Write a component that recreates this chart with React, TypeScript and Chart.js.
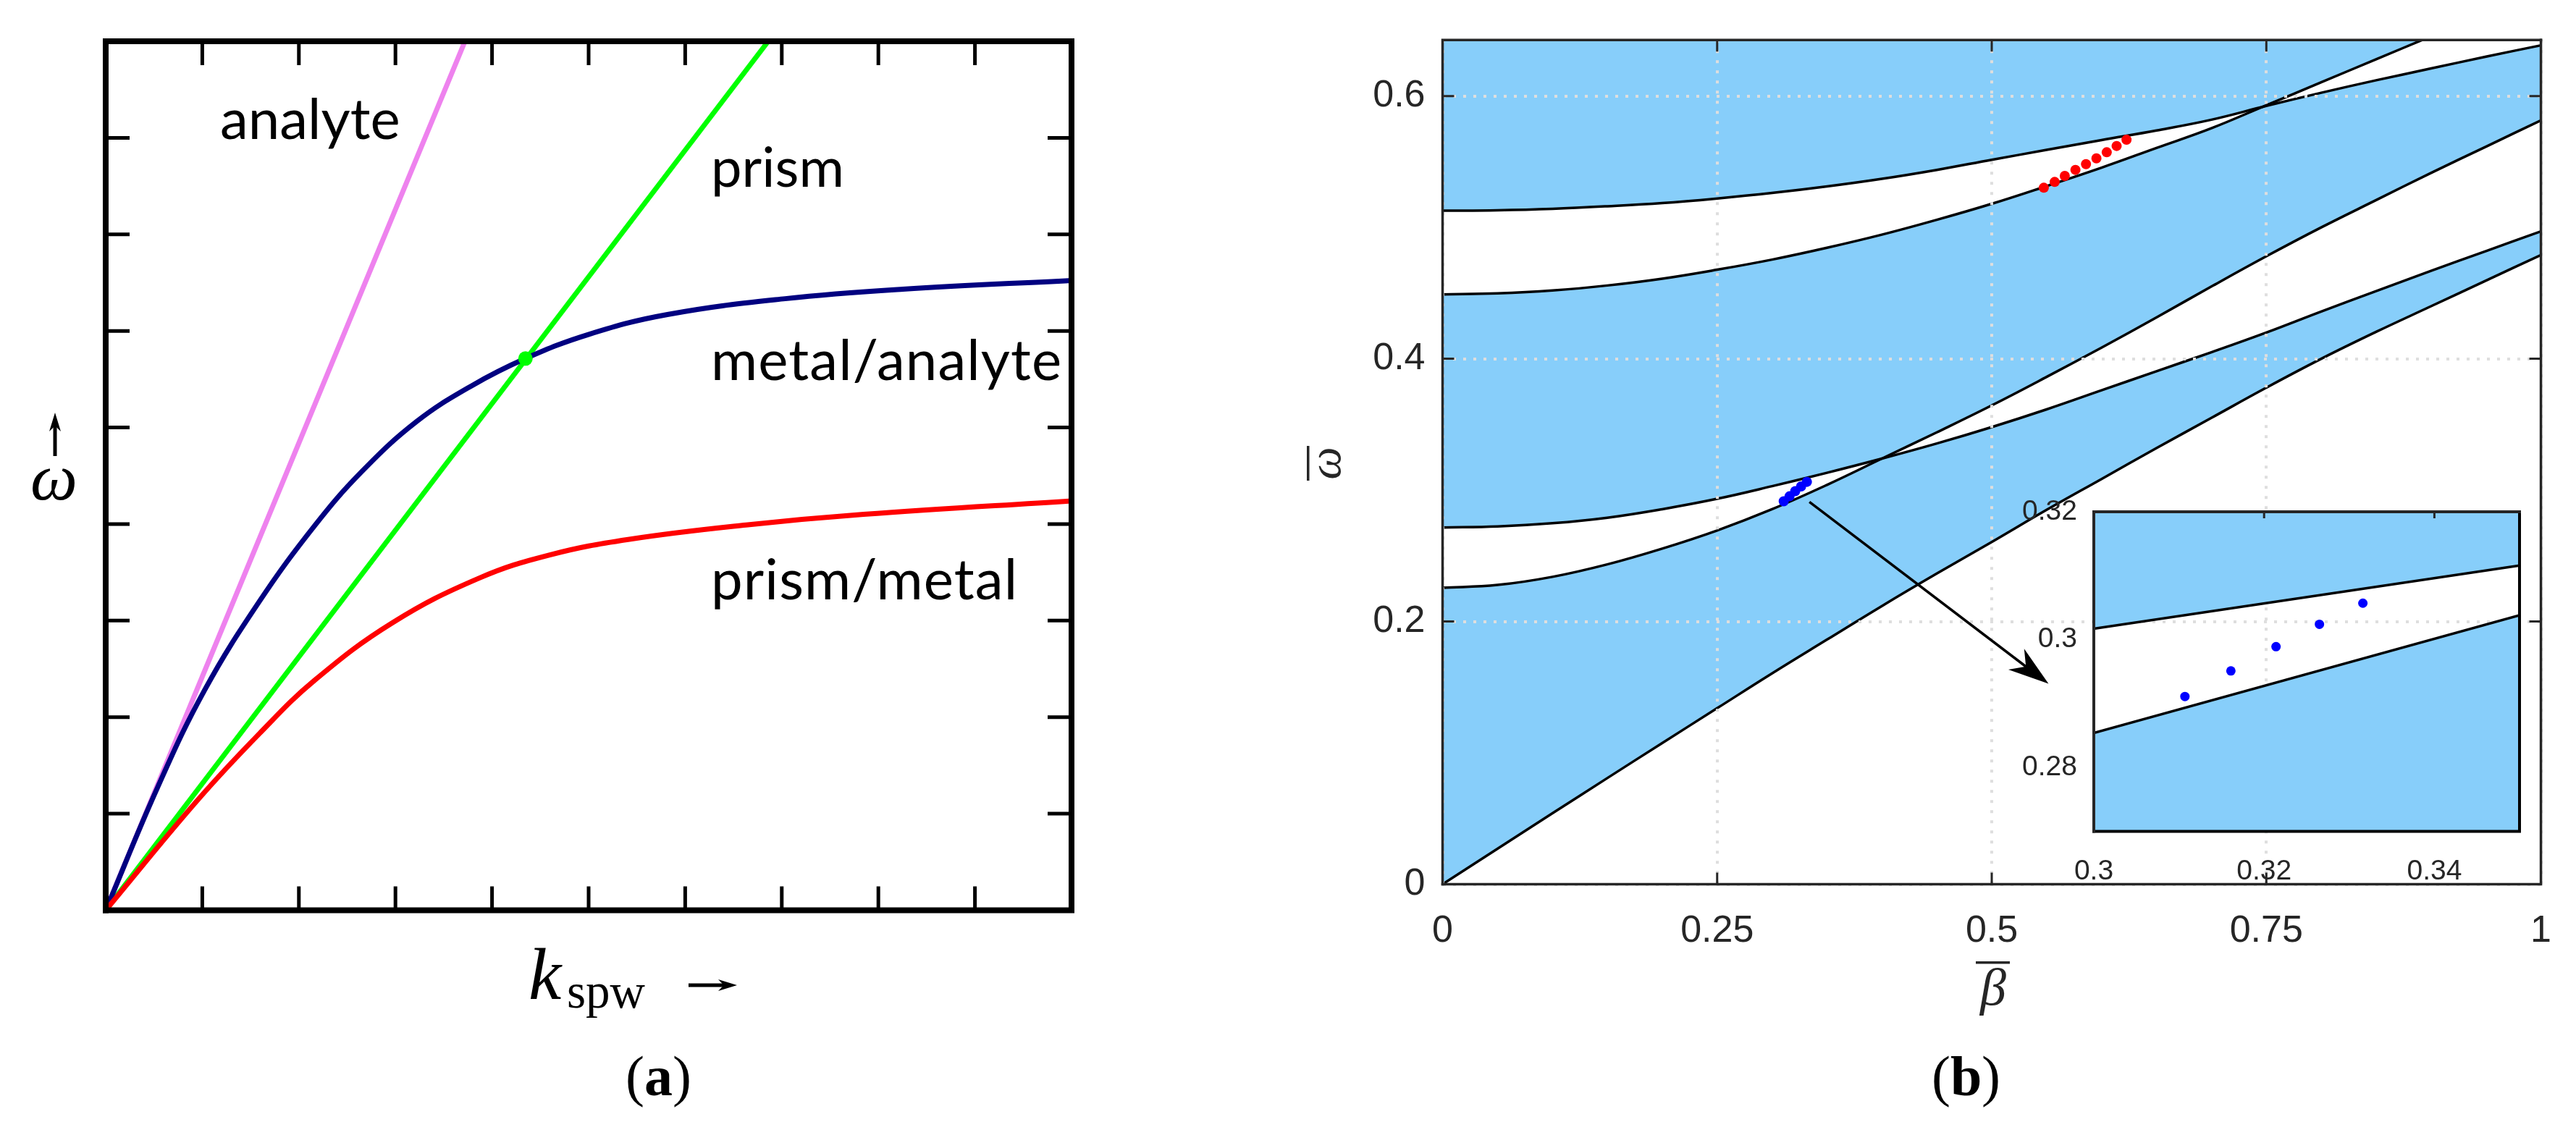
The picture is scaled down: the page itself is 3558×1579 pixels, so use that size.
import React, { useEffect, useRef } from "react";
import { Chart, registerables } from "chart.js";

Chart.register(...registerables);

const W = 3558;
const H = 1579;

// Panel (a)
const kTicks = [0, 1, 2, 3, 4, 5, 6, 7, 8, 9, 10];
const wTicks = [0, 1, 2, 3, 4, 5, 6, 7, 8, 9];
const analyteK = [0, 3.72];
const analyteW = [0, 9];
const prismK = [0, 6.86];
const prismW = [0, 9];
const metalAnalyteK = [0, 0.536, 1.024, 1.592, 2.161, 2.648, 3.217, 3.786, 4.346, 5.004, 5.816, 7.035, 8.253, 10];
const metalAnalyteW = [0, 1.27, 2.28, 3.2, 3.98, 4.54, 5.06, 5.43, 5.714, 5.965, 6.17, 6.334, 6.432, 6.523];
const prismMetalK = [0, 0.942, 1.592, 2.161, 2.973, 3.867, 4.598, 5.41, 6.629, 7.847, 10];
const prismMetalW = [0, 1.13, 1.83, 2.38, 2.98, 3.44, 3.68, 3.84, 3.99, 4.1, 4.24];
const crossK = [4.346];
const crossW = [5.714];

// Panel (b)
const betaTicks = [0, 0.25, 0.5, 0.75, 1];
const betaLabels = ["0", "0.25", "0.5", "0.75", "1"];
const omegaTicks = [0, 0.2, 0.4, 0.6];
const omegaLabels = ["0", "0.2", "0.4", "0.6"];
const beta = [0, 0.05, 0.1, 0.15, 0.2, 0.25, 0.3, 0.35, 0.4, 0.45, 0.5, 0.55, 0.6, 0.65, 0.7, 0.75, 0.8, 0.85, 0.9, 0.95, 1];
const curve1 = [0.5127, 0.5131, 0.5142, 0.5161, 0.5185, 0.522, 0.5262, 0.5312, 0.537, 0.5438, 0.5515, 0.559, 0.5665, 0.5738, 0.582, 0.5925, 0.6025, 0.612, 0.621, 0.63, 0.6386];
const curve2 = [0.449, 0.4498, 0.452, 0.4558, 0.461, 0.4678, 0.4755, 0.4845, 0.4945, 0.5058, 0.518, 0.5315, 0.5455, 0.5605, 0.5755, 0.593, 0.6105, 0.628, 0.6455, 0.663, 0.68];
const curve3 = [0.2716, 0.2724, 0.2748, 0.279, 0.2855, 0.2934, 0.303, 0.3132, 0.324, 0.3355, 0.348, 0.3615, 0.376, 0.3905, 0.405, 0.42, 0.436, 0.4515, 0.467, 0.482, 0.497];
const curve4 = [0.2256, 0.2278, 0.234, 0.2435, 0.2555, 0.2693, 0.2855, 0.304, 0.324, 0.344, 0.3645, 0.3862, 0.4085, 0.4315, 0.455, 0.478, 0.5, 0.5208, 0.5415, 0.5615, 0.5815];
const curve5 = [0, 0.027, 0.054, 0.0808, 0.1075, 0.134, 0.1605, 0.1862, 0.2118, 0.2365, 0.2605, 0.285, 0.3085, 0.332, 0.355, 0.378, 0.4, 0.4205, 0.44, 0.4595, 0.479];
const redBeta = [0.5474, 0.5573, 0.5665, 0.5762, 0.5858, 0.5953, 0.6047, 0.6137, 0.6227];
const redOmega = [0.5302, 0.5346, 0.5392, 0.5438, 0.5482, 0.5526, 0.5572, 0.562, 0.5667];
const blueBeta = [0.3106, 0.3159, 0.3211, 0.3264, 0.3317];
const blueOmega = [0.2915, 0.2953, 0.2992, 0.3028, 0.3063];
const arrowBeta = [0.334, 0.5517];
const arrowOmega = [0.291, 0.1526];

// Inset
const insetBetaTicks = [0.3, 0.32, 0.34];
const insetBetaLabels = ["0.3", "0.32", "0.34"];
const insetOmegaTicks = [0.28, 0.3, 0.32];
const insetOmegaLabels = ["0.28", "0.3", "0.32"];
const insetBeta = [0.3, 0.35];
const insetUpper = [0.3017, 0.3116];
const insetLower = [0.2854, 0.3038];
const insetDotsBeta = [0.3107, 0.3161, 0.3214, 0.3265, 0.3316];
const insetDotsOmega = [0.2911, 0.2951, 0.2989, 0.3024, 0.3057];

const BLUE = "#87CEFA";
const DARK = "#262626";

const pts = (xs: number[], ys: number[]) => xs.map((x, i) => ({ x, y: ys[i] }));

function box(l: number, t: number, r: number, b: number) {
  return {
    padding: { left: 0, top: t, right: W - r, bottom: 0 },
    autoPadding: false,
    xFit: (s: any) => { s.height = H - b; },
    yFit: (s: any) => { s.width = l; },
  };
}

function frame(ctx: CanvasRenderingContext2D, a: any, width: number, c1: string, c2: string) {
  ctx.save();
  ctx.lineWidth = width;
  ctx.lineCap = "square";
  ctx.strokeStyle = c2;
  ctx.beginPath();
  ctx.moveTo(a.left, a.bottom); ctx.lineTo(a.right, a.bottom); ctx.lineTo(a.right, a.top);
  ctx.stroke();
  ctx.strokeStyle = c1;
  ctx.beginPath();
  ctx.moveTo(a.left, a.bottom); ctx.lineTo(a.left, a.top); ctx.lineTo(a.right, a.top);
  ctx.stroke();
  ctx.restore();
}

function inwardTicks(chart: any, len: number, width: number, color: string, sides: string) {
  const { ctx, chartArea: a, scales } = chart;
  ctx.save();
  ctx.strokeStyle = color;
  ctx.lineWidth = width;
  ctx.beginPath();
  for (const t of scales.x.ticks) {
    if (t.value <= scales.x.min || t.value >= scales.x.max) continue;
    const p = scales.x.getPixelForValue(t.value);
    if (sides.includes("b")) { ctx.moveTo(p, a.bottom); ctx.lineTo(p, a.bottom - len); }
    if (sides.includes("t")) { ctx.moveTo(p, a.top); ctx.lineTo(p, a.top + len); }
  }
  for (const t of scales.y.ticks) {
    if (t.value <= scales.y.min || t.value >= scales.y.max) continue;
    const p = scales.y.getPixelForValue(t.value);
    if (sides.includes("l")) { ctx.moveTo(a.left, p); ctx.lineTo(a.left + len, p); }
    if (sides.includes("r")) { ctx.moveTo(a.right, p); ctx.lineTo(a.right - len, p); }
  }
  ctx.stroke();
  ctx.restore();
}

function text(ctx: CanvasRenderingContext2D, s: string, x: number, y: number, font: string, color = "#000", align: CanvasTextAlign = "left") {
  ctx.font = font;
  ctx.fillStyle = color;
  ctx.textAlign = align;
  ctx.textBaseline = "alphabetic";
  ctx.fillText(s, x, y);
}

function arrowLine(ctx: CanvasRenderingContext2D, x0: number, y0: number, x1: number, y1: number, lw: number, head: number, wing: number) {
  ctx.save();
  ctx.strokeStyle = "#000";
  ctx.fillStyle = "#000";
  ctx.lineWidth = lw;
  const ang = Math.atan2(y1 - y0, x1 - x0);
  const ux = Math.cos(ang), uy = Math.sin(ang);
  ctx.beginPath();
  ctx.moveTo(x0, y0);
  ctx.lineTo(x1 - ux * head * 0.6, y1 - uy * head * 0.6);
  ctx.stroke();
  ctx.beginPath();
  ctx.moveTo(x1, y1);
  ctx.lineTo(x1 - ux * head - uy * wing, y1 - uy * head + ux * wing);
  ctx.lineTo(x1 - ux * head * 0.7, y1 - uy * head * 0.7);
  ctx.lineTo(x1 - ux * head + uy * wing, y1 - uy * head - ux * wing);
  ctx.closePath();
  ctx.fill();
  ctx.restore();
}

const SANS = '"Lato"';
const SERIF = '"Liberation Serif"';

const decorA = {
  id: "decorA",
  afterDraw(chart: any) {
    const { ctx, chartArea: a } = chart;
    inwardTicks(chart, 33, 5, "#000", "btlr");
    frame(ctx, a, 8, "#000", "#000");
    ctx.save();
    const f = `78px ${SANS}`;
    text(ctx, "analyte", 304, 192, f);
    text(ctx, "prism", 982, 258, `76px ${SANS}`);
    (ctx as any).letterSpacing = "1.1px";
    text(ctx, "metal/analyte", 982, 525, f);
    text(ctx, "prism/metal", 982, 828, f);
    (ctx as any).letterSpacing = "0px";
    text(ctx, "ω", 42, 690, `italic 92px ${SERIF}`);
    arrowLine(ctx, 76, 630, 76, 570, 5, 26, 8);
    text(ctx, "k", 730, 1380, `italic 102px ${SERIF}`);
    text(ctx, "spw", 783, 1392, `67px ${SERIF}`);
    arrowLine(ctx, 951, 1361, 1018, 1361, 5, 26, 8);
    text(ctx, "(", 864, 1513, `78px ${SERIF}`);
    text(ctx, "a", 890, 1513, `bold 78px ${SERIF}`);
    text(ctx, ")", 929, 1513, `78px ${SERIF}`);
    ctx.restore();
  },
};

const decorB = {
  id: "decorB",
  afterDraw(chart: any) {
    const { ctx, chartArea: a, scales } = chart;
    arrowLine(
      ctx,
      scales.x.getPixelForValue(arrowBeta[0]), scales.y.getPixelForValue(arrowOmega[0]),
      scales.x.getPixelForValue(arrowBeta[1]), scales.y.getPixelForValue(arrowOmega[1]),
      3.5, 56, 18,
    );
    inwardTicks(chart, 16, 3, DARK, "btlr");
    frame(ctx, a, 3.5, DARK, DARK);
    ctx.save();
    ctx.translate(1851, 640);
    ctx.rotate(-Math.PI / 2);
    text(ctx, "ω", 0, 0, `italic 64px ${SERIF}`, DARK, "center");
    ctx.fillStyle = DARK;
    ctx.fillRect(-24, -46, 48, 3.5);
    ctx.restore();
    text(ctx, "β", 2753, 1388, `italic 72px ${SERIF}`, DARK, "center");
    ctx.fillStyle = DARK;
    ctx.fillRect(2729, 1328, 47, 3.5);
    text(ctx, "(", 2668, 1513, `78px ${SERIF}`);
    text(ctx, "b", 2694, 1513, `bold 78px ${SERIF}`);
    text(ctx, ")", 2737, 1513, `78px ${SERIF}`);
  },
};

const decorInset = {
  id: "decorInset",
  afterDraw(chart: any) {
    const { ctx, chartArea: a } = chart;
    inwardTicks(chart, 9, 3, DARK, "t");
    frame(ctx, a, 4, DARK, "#000");
  },
};

export default function App() {
  const aRef = useRef<HTMLCanvasElement>(null);
  const bRef = useRef<HTMLCanvasElement>(null);
  const iRef = useRef<HTMLCanvasElement>(null);

  useEffect(() => {
    const line = (xs: number[], ys: number[], color: string, width: number, order: number, extra: any = {}) => ({
      type: "line",
      data: pts(xs, ys),
      borderColor: color,
      borderWidth: width,
      pointRadius: 0,
      fill: false,
      order,
      ...extra,
    });
    const dots = (xs: number[], ys: number[], color: string, r: number, order: number) => ({
      type: "line",
      data: pts(xs, ys),
      showLine: false,
      pointRadius: r,
      pointBorderWidth: 0,
      pointBackgroundColor: color,
      fill: false,
      order,
    });
    const base = {
      animation: false,
      responsive: false,
      devicePixelRatio: 1,
      plugins: { legend: { display: false }, tooltip: { enabled: false } },
      events: [],
    };
    const smooth = { tension: 0.4 };

    const la = box(146, 57, 1480, 1257.5);
    const chartA = new Chart(aRef.current!, {
      type: "line",
      data: {
        datasets: [
          line(analyteK, analyteW, "#EE82EE", 7, 5),
          line(prismK, prismW, "#00FF00", 7, 4),
          line(metalAnalyteK, metalAnalyteW, "#000080", 7, 3, smooth),
          line(prismMetalK, prismMetalW, "#FF0000", 7, 2, smooth),
          dots(crossK, crossW, "#00FF00", 10, 1),
        ],
      } as any,
      options: {
        ...base,
        layout: { padding: la.padding, autoPadding: false },
        scales: {
          x: {
            type: "linear", min: 0, max: 10,
            grid: { display: false }, border: { display: false },
            ticks: { display: false },
            afterBuildTicks: (s: any) => { s.ticks = kTicks.map((value) => ({ value })); },
            afterFit: la.xFit,
          },
          y: {
            type: "linear", min: 0, max: 9,
            grid: { display: false }, border: { display: false },
            ticks: { display: false },
            afterBuildTicks: (s: any) => { s.ticks = wTicks.map((value) => ({ value })); },
            afterFit: la.yFit,
          },
        },
      } as any,
      plugins: [decorA],
    });

    const lb = box(1992.5, 52.5, 3511.5, 1221.5);
    const tickFont = { family: '"Liberation Sans"', size: 52 };
    const chartB = new Chart(bRef.current!, {
      type: "line",
      data: {
        datasets: [
          line(beta, curve5, "transparent", 0, 12, { ...smooth, fill: "end", backgroundColor: BLUE }),
          line(beta, curve5, "#000", 3.5, 11, { ...smooth, fill: "start", backgroundColor: "#fff" }),
          line(beta, curve3, "#000", 3.5, 10, { ...smooth, fill: 3, backgroundColor: "#fff" }),
          line(beta, curve4, "#000", 3.5, 9, smooth),
          line(beta, curve1, "#000", 3.5, 8, { ...smooth, fill: 5, backgroundColor: "#fff" }),
          line(beta, curve2, "#000", 3.5, 7, smooth),
          dots(redBeta, redOmega, "#FF0000", 7, 2),
          dots(blueBeta, blueOmega, "#0000FF", 7, 1),
        ],
      } as any,
      options: {
        ...base,
        layout: { padding: lb.padding, autoPadding: false },
        scales: {
          x: {
            type: "linear", min: 0, max: 1,
            grid: { display: true, z: 1, color: "#dedede", lineWidth: 4, drawTicks: false },
            border: { display: false, dash: [4, 10] },
            ticks: {
              font: tickFont, color: DARK, padding: 34, maxRotation: 0, autoSkip: false,
              callback: (_v: any, i: number) => betaLabels[i],
            },
            afterBuildTicks: (s: any) => { s.ticks = betaTicks.map((value) => ({ value })); },
            afterFit: lb.xFit,
          },
          y: {
            type: "linear", min: 0, max: 0.6427,
            grid: { display: true, z: 1, color: "#dedede", lineWidth: 4, drawTicks: false },
            border: { display: false, dash: [4, 10] },
            ticks: {
              font: tickFont, color: DARK, padding: 24, autoSkip: false,
              callback: (_v: any, i: number) => omegaLabels[i],
            },
            afterBuildTicks: (s: any) => { s.ticks = omegaTicks.map((value) => ({ value })); },
            afterFit: lb.yFit,
          },
        },
      } as any,
      plugins: [decorB],
    });

    const li = box(2892, 707, 3480, 1148.5);
    const insetFont = { family: '"Liberation Sans"', size: 39 };
    const chartI = new Chart(iRef.current!, {
      type: "line",
      data: {
        datasets: [
          line(insetBeta, insetUpper, "#000", 3.5, 4, { fill: "end", backgroundColor: BLUE }),
          line(insetBeta, insetLower, "#000", 3.5, 3, { fill: "start", backgroundColor: BLUE }),
          dots(insetDotsBeta, insetDotsOmega, "#0000FF", 6.5, 1),
        ],
      } as any,
      options: {
        ...base,
        layout: { padding: li.padding, autoPadding: false },
        scales: {
          x: {
            type: "linear", min: 0.3, max: 0.35,
            grid: { display: false }, border: { display: false },
            ticks: {
              font: insetFont, color: DARK, padding: 24, maxRotation: 0, autoSkip: false,
              callback: (_v: any, i: number) => insetBetaLabels[i],
            },
            afterBuildTicks: (s: any) => { s.ticks = insetBetaTicks.map((value) => ({ value })); },
            afterFit: li.xFit,
          },
          y: {
            type: "linear", min: 0.27, max: 0.32,
            grid: { display: false }, border: { display: false },
            ticks: {
              font: insetFont, color: DARK, padding: 15, autoSkip: false,
              callback: (_v: any, i: number) => insetOmegaLabels[i],
            },
            afterBuildTicks: (s: any) => { s.ticks = insetOmegaTicks.map((value) => ({ value })); },
            afterFit: li.yFit,
          },
        },
      } as any,
      plugins: [decorInset],
    });

    return () => {
      chartA.destroy();
      chartB.destroy();
      chartI.destroy();
    };
  }, []);

  const layer: React.CSSProperties = { position: "absolute", left: 0, top: 0, width: W, height: H };
  return (
    <div style={{ position: "absolute", left: 0, top: 0, width: W, height: H, overflow: "hidden", background: "#fff" }}>
      <canvas ref={aRef} width={W} height={H} style={layer} />
      <canvas ref={bRef} width={W} height={H} style={layer} />
      <canvas ref={iRef} width={W} height={H} style={layer} />
    </div>
  );
}
